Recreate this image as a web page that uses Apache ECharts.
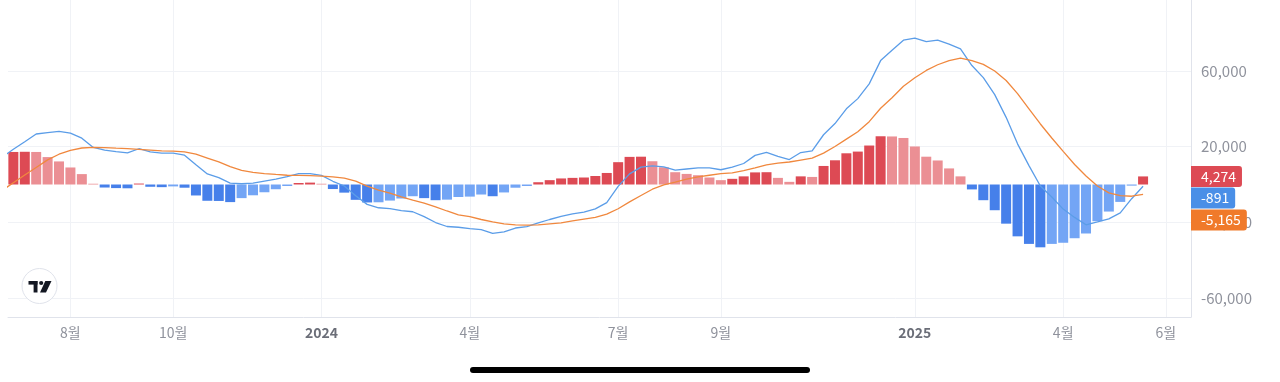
<!DOCTYPE html>
<html><head><meta charset="utf-8">
<script src="https://cdn.jsdelivr.net/npm/echarts@6/dist/echarts.min.js"></script>
<style>html,body{margin:0;padding:0;background:#fff;overflow:hidden}#c{width:1280px;height:382px}</style>
</head><body><div id="c"></div>
<script>
// Weekly bars (Monday dates); first entry is the partly hidden bar left of the plot
const weeks = [
'2023-06-19','2023-06-26','2023-07-03','2023-07-10','2023-07-17','2023-07-24','2023-07-31','2023-08-07','2023-08-14','2023-08-21','2023-08-28',
'2023-09-04','2023-09-11','2023-09-18','2023-09-25','2023-10-02','2023-10-09','2023-10-16','2023-10-23','2023-10-30','2023-11-06','2023-11-13',
'2023-11-20','2023-11-27','2023-12-04','2023-12-11','2023-12-18','2023-12-25',
'2024-01-01','2024-01-08','2024-01-15','2024-01-22','2024-01-29','2024-02-05','2024-02-12','2024-02-19','2024-02-26','2024-03-04','2024-03-11',
'2024-03-18','2024-03-25','2024-04-01','2024-04-08','2024-04-15','2024-04-22','2024-04-29','2024-05-06','2024-05-13','2024-05-20','2024-05-27',
'2024-06-03','2024-06-10','2024-06-17','2024-06-24','2024-07-01','2024-07-08','2024-07-15','2024-07-22','2024-07-29','2024-08-05','2024-08-12',
'2024-08-19','2024-08-26','2024-09-02','2024-09-09','2024-09-16','2024-09-23','2024-09-30','2024-10-07','2024-10-14','2024-10-21','2024-10-28',
'2024-11-04','2024-11-11','2024-11-18','2024-11-25','2024-12-02','2024-12-09','2024-12-16','2024-12-23','2024-12-30',
'2025-01-06','2025-01-13','2025-01-20','2025-01-27','2025-02-03','2025-02-10','2025-02-17','2025-02-24','2025-03-03','2025-03-10','2025-03-17',
'2025-03-24','2025-03-31','2025-04-07','2025-04-14','2025-04-21','2025-04-28','2025-05-05','2025-05-12','2025-05-19'
];
const histogram = [null,
17200,17300,17200,14500,12200,9000,5500,400,-1600,-1900,
-2000,500,-1200,-1400,-1000,-1700,-5800,-8600,-8700,-9300,
-7200,-5700,-4100,-2500,-800,800,1000,400,-2400,-4300,
-8100,-9500,-9400,-8500,-7400,-6200,-7200,-8300,-8000,-6600,
-6400,-5300,-6200,-4200,-1700,-800,1200,2300,3200,3500,
3700,4500,6100,11800,14600,14700,12300,9100,6500,5600,
4900,3700,2300,3000,4300,6400,6500,3500,1400,4300,
4000,9800,12800,16500,17400,20600,25500,25400,24600,20100,
14700,12700,8500,4300,-2600,-8300,-13600,-20700,-27400,-31400,
-33200,-31400,-30800,-28400,-25900,-19400,-14300,-9200,-600,4274];
const macd = [14400,
18600,22600,26700,27400,28100,27200,24500,19600,18200,17400,
16700,18900,17200,16600,16600,15500,10500,5600,3600,700,
400,700,1800,2900,4200,5700,5800,4800,1700,-800,
-6000,-10500,-12300,-12800,-13800,-14400,-17000,-20100,-22200,-22600,
-23300,-23800,-25800,-25000,-23000,-22300,-20300,-18500,-16900,-15500,
-14600,-12900,-9600,-1000,5600,9200,9900,9300,7600,8200,
8800,8800,7800,9200,11100,15400,17000,14900,13200,16900,
17800,26300,32200,40000,45400,53200,65500,71000,76300,77400,
75500,76300,74200,71700,62900,56500,47500,35500,21500,10000,
-800,-6600,-13000,-17400,-21300,-19800,-18200,-15000,-7500,-891];
const signal = [-3200,
900,5000,9000,13000,16000,18000,19300,19600,19500,19200,
19000,18600,18200,17800,17600,17200,16000,14000,12000,9500,
7500,6400,5800,5300,4900,4800,4700,4400,4000,3400,
1800,-900,-3000,-4600,-6500,-8200,-9800,-11800,-14000,-16000,
-17000,-18500,-19800,-20800,-21300,-21500,-21300,-20800,-20300,-19200,
-18300,-17400,-15700,-12800,-9200,-5800,-2500,-200,1300,2900,
4000,4900,5700,6200,7300,8800,10400,11300,11900,12900,
13900,16600,20100,24000,27900,33200,40300,45900,51900,56400,
60300,63300,65500,66800,65500,63500,60000,55000,48000,40000,
32000,24600,17500,10600,4500,-800,-4400,-5900,-6200,-5165];
const tickDates  = ['2023-07-31','2023-10-02','2024-01-01','2024-04-01','2024-07-01','2024-09-02','2024-12-30','2025-03-31','2025-06-02'];
const tickLabels = ['8월','10월','2024','4월','7월','9월','2025','4월','6월'];
const tickIsYear = [false,false,true,false,false,false,true,false,false];
const yTicks = [-60000,-20000,20000,60000];
const xRange = ['2023-06-22T17:00:00Z','2025-06-17T09:36:00Z'];
const yRange = [-70040, 97530];

const C = {
  upDark:'#dd4a54', upLight:'#eb8f94', dnDark:'#4680ea', dnLight:'#73a5f5',
  macd:'#5b9de8', signal:'#f0883e', grid:'#f0f2f6', axis:'#e0e3eb', label:'#8f929c'
};
const FONT = '"Noto Sans CJK KR","Noto Sans",sans-serif';
const toTime = s => Date.parse(s.length === 10 ? s + 'T00:00:00Z' : s);
const tickTimes = tickDates.map(toTime);
const weekTimes = weeks.map(toTime);

function histColor(i){
  const v = histogram[i], p = histogram[i-1];
  if (v >= 0) return (p == null || v > p) ? C.upDark : C.upLight;
  return (p == null || v < p) ? C.dnDark : C.dnLight;
}

const chart = echarts.init(document.getElementById('c'), null, {renderer:'canvas'});
const option = {
  animation:false,
  backgroundColor:'#ffffff',
  grid:{left:8, right:89, top:0, bottom:65},
  xAxis:{
    type:'value', min:toTime(xRange[0]), max:toTime(xRange[1]),
    axisLine:{show:true, onZero:false, lineStyle:{color:C.axis, width:1}},
    axisTick:{show:false, customValues:tickTimes},
    splitLine:{show:true, lineStyle:{color:C.grid, width:1}},
    axisLabel:{
      customValues:tickTimes, margin:9, fontFamily:FONT, fontSize:14, color:C.label,
      formatter:function(v){
        let best=0, bd=Infinity;
        tickTimes.forEach((t,k)=>{const d=Math.abs(t-v); if(d<bd){bd=d;best=k;}});
        return tickIsYear[best] ? '{y|'+tickLabels[best]+'}' : tickLabels[best];
      },
      rich:{y:{fontFamily:FONT, fontSize:14, fontWeight:600, color:'#6b6e78'}}
    }
  },
  yAxis:{
    type:'value', position:'right', min:yRange[0], max:yRange[1],
    axisLine:{show:true, lineStyle:{color:C.axis, width:1}},
    axisTick:{show:false, customValues:yTicks},
    splitLine:{show:true, lineStyle:{color:C.grid, width:1}},
    axisLabel:{customValues:yTicks, margin:10, fontFamily:FONT, fontSize:15, color:C.label,
      formatter:v => Number(v).toLocaleString('en-US')}
  },
  series:[
    {type:'bar', name:'Histogram', barWidth:10, z:2,
     data:weekTimes.map((t,i)=>[t, histogram[i]]),
     itemStyle:{color:p => histColor(p.dataIndex)}},
    {type:'line', name:'MACD', z:3, showSymbol:false, symbol:'none',
     data:weekTimes.map((t,i)=>[t, macd[i]]),
     lineStyle:{color:C.macd, width:1.3}},
    {type:'line', name:'Signal', z:4, showSymbol:false, symbol:'none',
     data:weekTimes.map((t,i)=>[t, signal[i]]),
     lineStyle:{color:C.signal, width:1.3}}
  ]
};
chart.setOption(option);

// Last-value tags on the price scale
const last = weeks.length - 1;
const fmt = v => Number(v).toLocaleString('en-US');
const redY = chart.convertToPixel({gridIndex:0}, [weekTimes[last], histogram[last]])[1];
const tagH = 21;
const tags = [
  {v:histogram[last], bg:C.upDark, cy:redY},
  {v:macd[last], bg:'#4a8fe7', cy:redY + tagH + 0.5},
  {v:signal[last], bg:'#f07a2a', cy:redY + 2*tagH + 1.5}
];
const plotRight = 1280 - 89;
const graphics = tags.map(t => ({
  type:'text', z:100, x:plotRight, y:t.cy,
  style:{text:fmt(t.v), fill:'#ffffff', font:'14px '+FONT, verticalAlign:'middle',
    backgroundColor:t.bg, padding:[3,6,3,10], lineHeight:15, borderRadius:[0,3,3,0]}
}));
// TradingView badge
graphics.push(
  {type:'circle', z:100, shape:{cx:39.5, cy:286, r:17.5}, style:{fill:'#ffffff', stroke:'#e0e3eb', lineWidth:1}},
  {type:'rect', z:101, shape:{x:28.5, y:281, width:9, height:3.6}, style:{fill:'#131722'}},
  {type:'rect', z:101, shape:{x:33.6, y:281, width:3.9, height:11.5}, style:{fill:'#131722'}},
  {type:'circle', z:101, shape:{cx:41.2, cy:283, r:2.1}, style:{fill:'#131722'}},
  {type:'polygon', z:101, shape:{points:[[45.3,281],[51.5,281],[46,292.5],[40,292.5]]}, style:{fill:'#131722'}},
  // device home indicator
  {type:'rect', z:101, shape:{x:470, y:367, width:340, height:6, r:3}, style:{fill:'#000000'}}
);
chart.setOption({graphic:graphics});
</script>
</body></html>
